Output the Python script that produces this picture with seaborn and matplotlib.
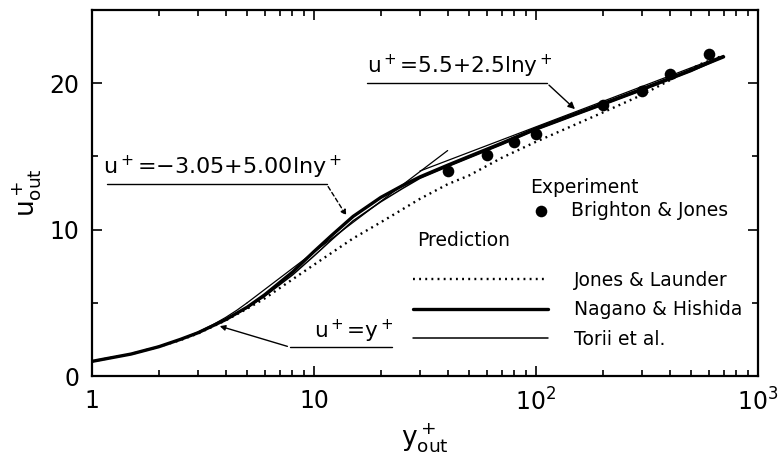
import numpy as np
import pandas as pd
import matplotlib
matplotlib.use("Agg")
import matplotlib.pyplot as plt
from matplotlib.ticker import LogLocator, FixedLocator, NullFormatter
import seaborn as sns

# --- data ---
exp_y = [40, 60, 80, 100, 200, 300, 400, 600]
exp_u = [14.0, 15.1, 16.0, 16.5, 18.5, 19.5, 20.6, 22.0]

jl_y = [1, 1.5, 2, 2.5, 3, 4, 5, 6, 8, 10, 15, 20, 30, 40, 50, 70, 100, 200, 300, 550, 700]
jl_u = [1.0, 1.5, 2.0, 2.45, 2.9, 3.8, 4.6, 5.3, 6.6, 7.6, 9.4, 10.5, 12.1, 13.1, 13.7, 14.9, 16.0, 18.0, 19.2, 21.3, 21.9]

nh_y = [1, 1.5, 2, 2.5, 3, 4, 5, 6, 8, 10, 12, 15, 20, 25, 30, 40, 50, 70, 100, 150, 200, 300, 500, 700]
nh_u = [1.0, 1.5, 2.0, 2.5, 2.95, 3.85, 4.7, 5.55, 7.1, 8.5, 9.6, 10.9, 12.2, 13.0, 13.6, 14.4, 15.0, 15.9, 16.9, 17.9, 18.6, 19.6, 20.9, 21.8]

to_y = [1, 1.5, 2, 2.5, 3, 4, 5, 6, 8, 10, 12, 15, 20, 25, 30, 40, 50, 70, 100, 150, 200, 300, 500, 700]
to_u = [1.0, 1.5, 2.0, 2.5, 2.95, 3.85, 4.65, 5.45, 6.9, 8.2, 9.3, 10.6, 11.9, 12.8, 13.5, 14.3, 14.9, 15.8, 16.8, 17.8, 18.5, 19.5, 20.8, 21.8]

vis_y = [1, 1.5, 2, 2.5, 3, 3.5, 4, 4.5, 5]
vis_u = [1.0, 1.5, 2.0, 2.5, 3.0, 3.5, 4.0, 4.5, 5.0]

log1_y = [5, 40]
log1_u = [5.0, 15.4]

log2_y = [30, 700]
log2_u = [14.0, 21.9]

xticks = [1, 10, 100, 1000]
xticklabels = ["1", "10", r"10$^2$", r"10$^3$"]
yticks = [0, 10, 20]

sns.set_theme(style="ticks")
plt.rcParams['font.family'] = ['DejaVu Sans']
plt.rcParams['mathtext.fontset'] = 'dejavusans'
plt.rcParams['text.color'] = 'black'
plt.rcParams['axes.labelcolor'] = 'black'
plt.rcParams['xtick.color'] = 'black'
plt.rcParams['ytick.color'] = 'black'

fig = plt.figure(figsize=(7.8, 4.59), dpi=100)
ax = fig.add_axes([92/780, 1-376/459, 666/780, 366/459])

black = "black"
sns.lineplot(x=jl_y, y=jl_u, ax=ax, color=black, lw=1.7, linestyle=(0, (0.8, 1.8)),
             label="Jones & Launder", sort=False)
sns.lineplot(x=nh_y, y=nh_u, ax=ax, color=black, lw=2.4, label="Nagano & Hishida", sort=False)
sns.lineplot(x=to_y, y=to_u, ax=ax, color=black, lw=1.1, label="Torii et al.", sort=False)
sns.lineplot(x=vis_y, y=vis_u, ax=ax, color=black, lw=0.9, sort=False)
sns.lineplot(x=log1_y, y=log1_u, ax=ax, color=black, lw=0.9, sort=False)
sns.lineplot(x=log2_y, y=log2_u, ax=ax, color=black, lw=0.9, sort=False)
sns.scatterplot(x=exp_y, y=exp_u, ax=ax, color=black, s=70, edgecolor=black, linewidth=0,
                label="Brighton & Jones", zorder=5)

ax.set_xscale("log")
ax.set_xlim(1, 1000)
ax.set_ylim(0, 25)
ax.set_xticks(xticks)
ax.set_xticklabels(xticklabels)
ax.xaxis.set_minor_locator(LogLocator(base=10, subs=range(2, 10), numticks=20))
ax.xaxis.set_minor_formatter(NullFormatter())
ax.set_yticks(yticks)
ax.yaxis.set_minor_locator(FixedLocator([5, 15]))
ax.tick_params(axis="both", which="both", direction="in", top=True, right=True,
               width=1.2, color=black)
ax.tick_params(axis="both", which="major", length=7, labelsize=17, pad=9)
ax.tick_params(axis="both", which="minor", length=4)
for s in ax.spines.values():
    s.set_linewidth(1.6)
    s.set_color(black)

ax.set_xlabel(r"y$^+_{\rm out}$", fontsize=19, labelpad=4)
ax.set_ylabel(r"u$^+_{\rm out}$", fontsize=19, labelpad=4)

# annotations
ax.annotate(r"u$^+$=5.5+2.5lny$^+$", xy=(153, 18.1), xytext=(17.3, 20.2),
            fontsize=15.5, ha="left", va="bottom")
ax.plot([17.3, 112], [20.0, 20.0], color=black, lw=1.0)
ax.annotate("", xy=(153, 18.1), xytext=(112, 20.0),
            arrowprops=dict(arrowstyle="-|>", color=black, lw=1.0, mutation_scale=10))

ax.annotate(r"u$^+$=−3.05+5.00lny$^+$", xy=(14.2, 10.8), xytext=(1.12, 13.3),
            fontsize=16, ha="left", va="bottom")
ax.plot([1.17, 11.4], [13.1, 13.1], color=black, lw=1.0)
ax.annotate("", xy=(14.2, 10.8), xytext=(11.4, 13.1),
            arrowprops=dict(arrowstyle="-|>", color=black, lw=1.0, linestyle=(0, (3, 2)),
                            mutation_scale=8))

ax.annotate(r"u$^+$=y$^+$", xy=(3.66, 3.46), xytext=(10.0, 2.15),
            fontsize=15.5, ha="left", va="bottom")
ax.plot([7.8, 22.5], [1.97, 1.97], color=black, lw=1.0)
ax.annotate("", xy=(3.66, 3.46), xytext=(7.8, 1.97),
            arrowprops=dict(arrowstyle="-|>", color=black, lw=1.0, mutation_scale=8))

# legends
handles, labels = ax.get_legend_handles_labels()
hmap = dict(zip(labels, handles))
leg1 = ax.legend([hmap["Brighton & Jones"]], ["Brighton & Jones"], title="Experiment",
                 loc="upper left", bbox_to_anchor=((530-92)/666, (376-178)/366),
                 frameon=False, fontsize=13.5, title_fontsize=13.5, handlelength=1.2,
                 handletextpad=1.0, borderpad=0, borderaxespad=0, alignment="left",
                 labelspacing=0.2)
ax.add_artist(leg1)
ax.text((417-92)/666, (376-240)/366, "Prediction", transform=ax.transAxes,
        fontsize=13.5, ha="left", va="center")
leg2 = ax.legend([hmap["Jones & Launder"], hmap["Nagano & Hishida"], hmap["Torii et al."]],
                 ["Jones & Launder", "Nagano & Hishida", "Torii et al."],
                 loc="upper left", bbox_to_anchor=((413-92)/666, (376-271)/366),
                 frameon=False, fontsize=13.5, handlelength=7.2,
                 handletextpad=1.4, borderpad=0, borderaxespad=0, alignment="left",
                 labelspacing=0.55)

fig.savefig("out.png", dpi=100)
